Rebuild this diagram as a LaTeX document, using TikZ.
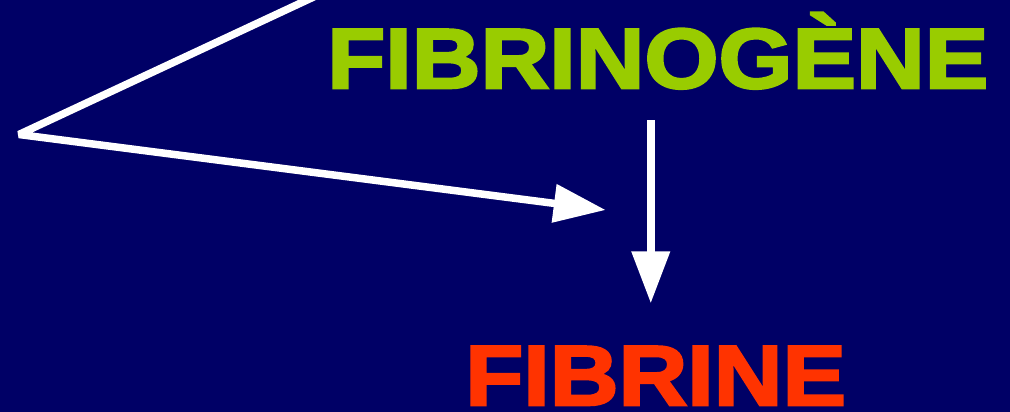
\documentclass[tikz,border=0pt]{standalone}
\usepackage{fontspec}
\usepackage{tikz}
\usetikzlibrary{arrows.meta, positioning}
\newfontfamily\titrefont[FakeStretch=1.12, FakeBold=3]{Liberation Sans Bold}
\definecolor{fond}{RGB}{0,0,102}
\definecolor{vert}{RGB}{153,204,0}
\definecolor{rouge}{RGB}{255,51,0}

\begin{document}
\begin{tikzpicture}[x=1pt, y=-1pt,
  titre/.style={
    inner sep=0pt, anchor=base west, text depth=0pt,
    font=\titrefont\fontsize{85}{85}\selectfont
  },
  arr/.style={-{Triangle[length=52pt, width=37pt]}, line width=7.5pt, draw=white}
]
  \useasboundingbox (0,0) rectangle (1010,412);
  \clip (0,0) rectangle (1010,412);
  \fill[fond] (0,0) rectangle (1010,412);

  \node[titre, text=vert] (fibrinogene) at (327,88) {FIBRINOGÈNE};
  \node[titre, text=rouge] (fibrine) at (465,405) {FIBRINE};

  \coordinate (haut) at (335,-13);
  \coordinate (coude) at (19,134.5);
  \coordinate (cible) at (605.7,210);

  \draw[arr, line join=bevel] (haut) -- (coude) -- (cible);
  \draw[arr] ([xshift=-7pt, yshift=-32pt]fibrinogene.south) coordinate (depart)
    -- ([yshift=43pt]depart |- fibrine.north);
\end{tikzpicture}
\end{document}
